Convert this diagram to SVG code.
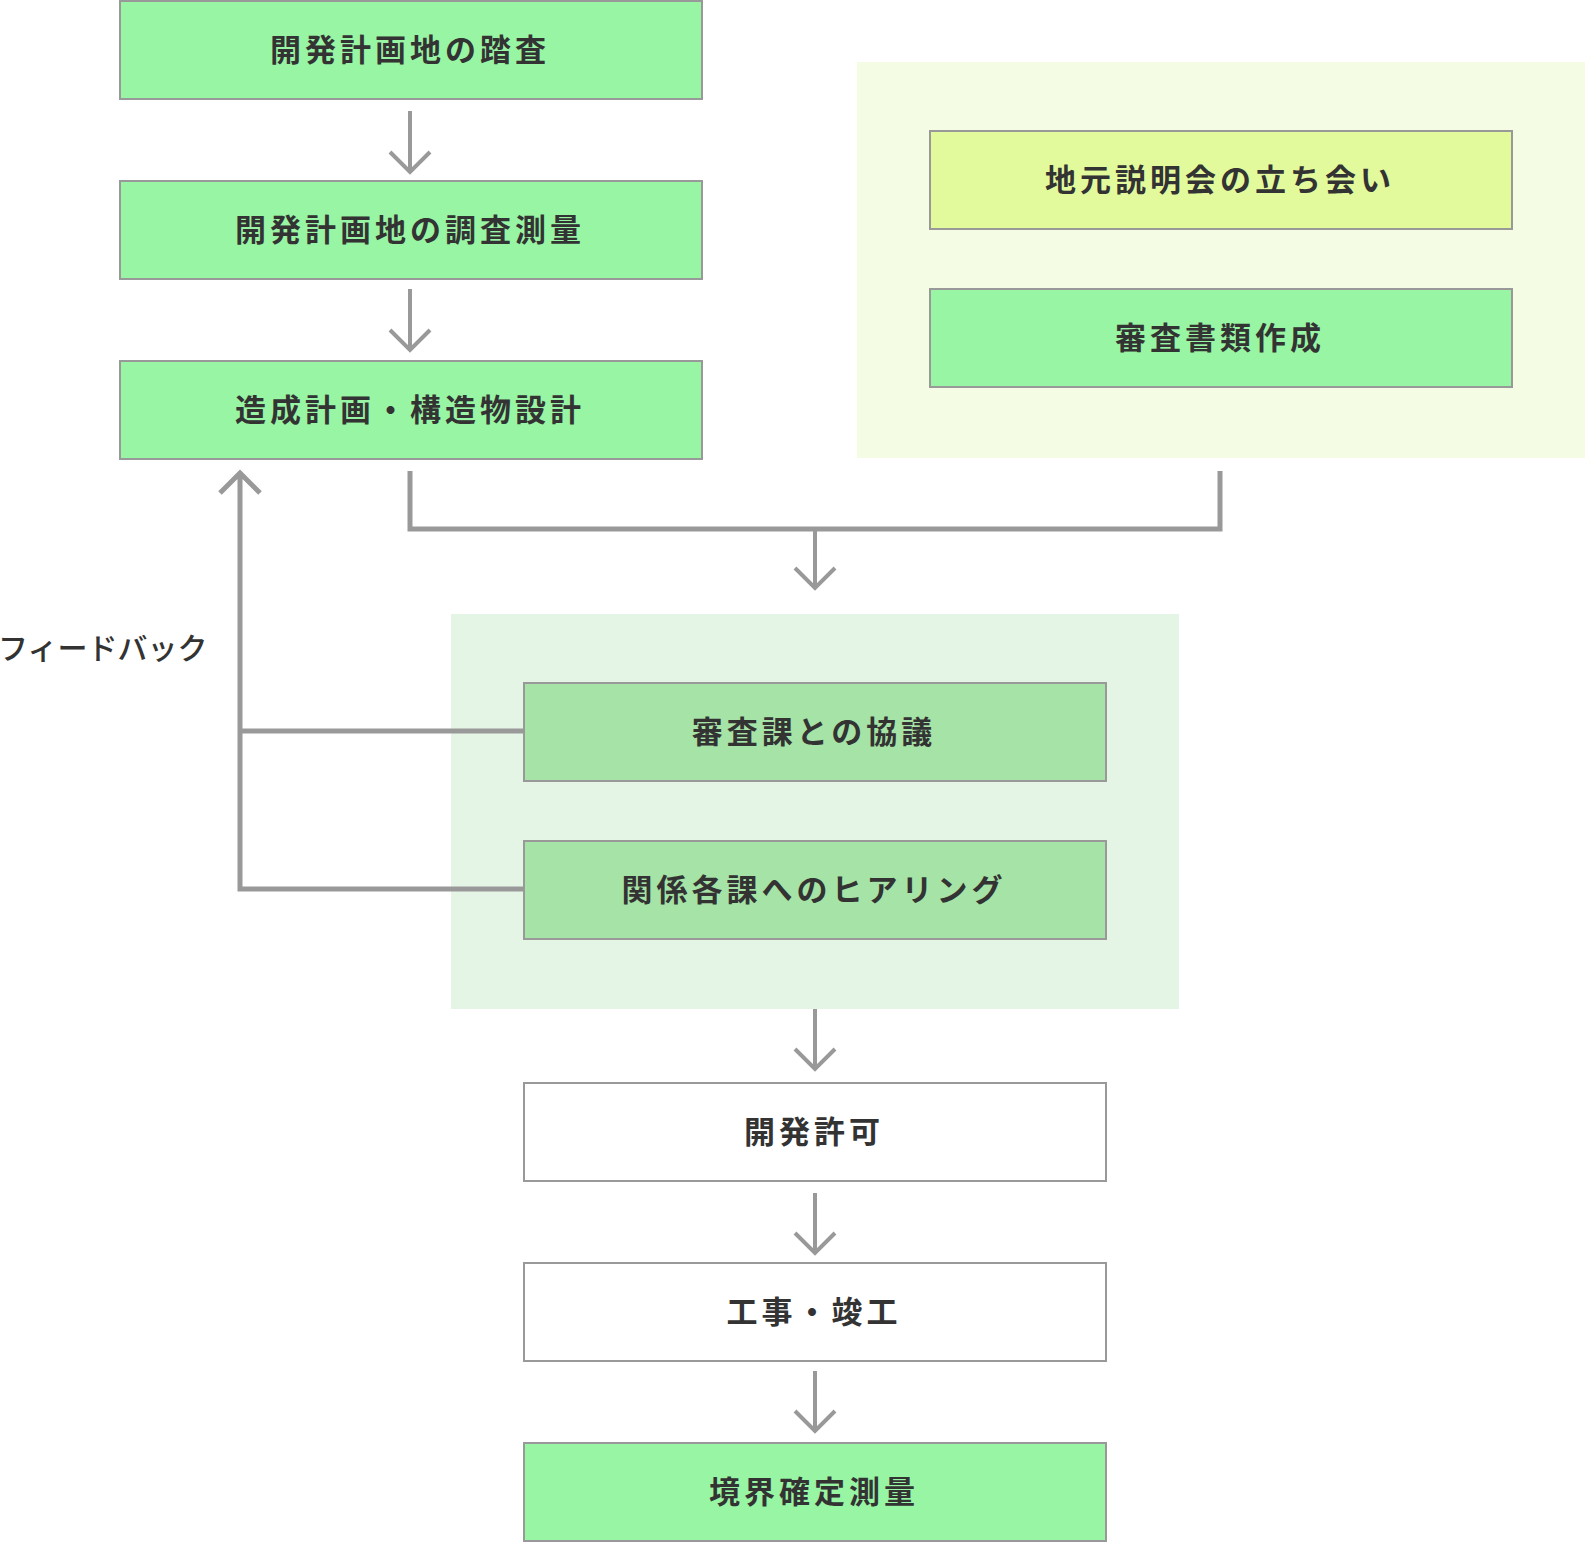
<svg xmlns="http://www.w3.org/2000/svg" width="1585" height="1542" viewBox="0 0 1585 1542">
<defs>
<style>
.box{stroke:#999;stroke-width:2}
.g{fill:#98f5a3}
.y{fill:#e2fa9c}
.m{fill:#a6e3a6}
.w{fill:#fff}
.t{font-family:"Noto Sans CJK JP","Noto Sans",sans-serif;font-size:31px;font-weight:700;fill:#333;letter-spacing:4px;text-anchor:middle;dominant-baseline:central}
.ln{fill:none;stroke:#999;stroke-width:5}
.ar{fill:none;stroke:#999;stroke-width:4}
</style>
</defs>
<rect x="857" y="62" width="728" height="396" fill="#f4fde3"/>
<rect x="451" y="614" width="728" height="395" fill="#e4f5e6"/>
<g id="connectors">
<path class="ar" d="M410 111V172M390 152L410 172L430 152"/>
<path class="ar" d="M410 289V350M390 330L410 350L430 330"/>
<path class="ln" d="M410 471V529H1220V471" stroke-width="6"/>
<path class="ar" d="M815 529V588M795 568L815 588L835 568"/>
<path class="ln" d="M524 889H240V473M220 493L240 473L260 493"/>
<path class="ln" d="M240 731H524"/>
<path class="ar" d="M815 1009V1069M795 1049L815 1069L835 1049"/>
<path class="ar" d="M815 1193V1253M795 1233L815 1253L835 1233"/>
<path class="ar" d="M815 1371V1431M795 1411L815 1431L835 1411"/>
</g>
<g id="n1"><rect class="box g" x="120" y="1" width="582" height="98"/><text class="t" x="410" y="47">開発計画地の踏査</text></g>
<g id="n2"><rect class="box g" x="120" y="181" width="582" height="98"/><text class="t" x="410" y="227">開発計画地の調査測量</text></g>
<g id="n3"><rect class="box g" x="120" y="361" width="582" height="98"/><text class="t" x="410" y="407">造成計画・構造物設計</text></g>
<g id="n4"><rect class="box y" x="930" y="131" width="582" height="98"/><text class="t" x="1220" y="177">地元説明会の立ち会い</text></g>
<g id="n5"><rect class="box g" x="930" y="289" width="582" height="98"/><text class="t" x="1220" y="335">審査書類作成</text></g>
<g id="n6"><rect class="box m" x="524" y="683" width="582" height="98"/><text class="t" x="814" y="729">審査課との協議</text></g>
<g id="n7"><rect class="box m" x="524" y="841" width="582" height="98"/><text class="t" x="814" y="887">関係各課へのヒアリング</text></g>
<g id="n8"><rect class="box w" x="524" y="1083" width="582" height="98"/><text class="t" x="814" y="1129">開発許可</text></g>
<g id="n9"><rect class="box w" x="524" y="1263" width="582" height="98"/><text class="t" x="814" y="1309">工事・竣工</text></g>
<g id="n10"><rect class="box g" x="524" y="1443" width="582" height="98"/><text class="t" x="814" y="1489">境界確定測量</text></g>
<g id="label"><text x="-2" y="646" font-family="Noto Sans CJK JP,Noto Sans,sans-serif" font-size="30" font-weight="500" fill="#333" dominant-baseline="central">フィードバック</text></g>
</svg>
